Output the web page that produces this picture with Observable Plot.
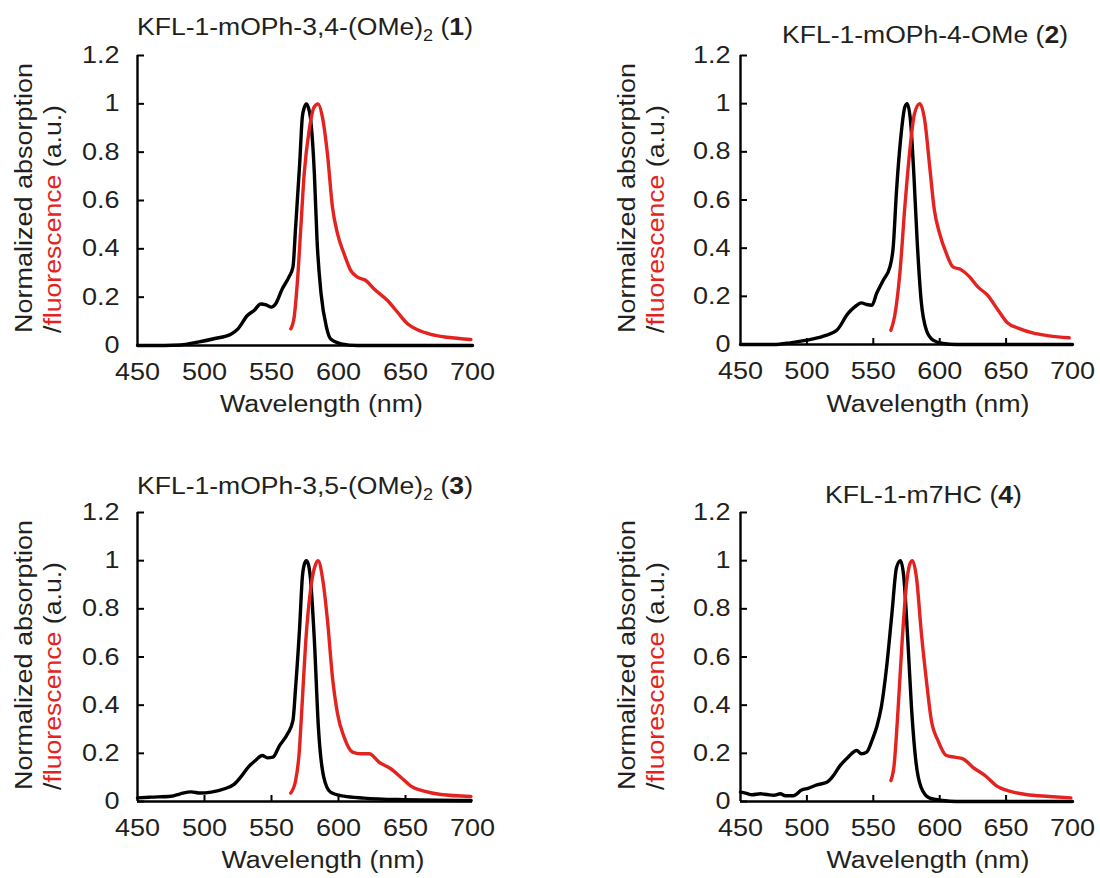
<!DOCTYPE html>
<html><head><meta charset="utf-8">
<script src="https://cdn.jsdelivr.net/npm/d3@7"></script>
<script src="https://cdn.jsdelivr.net/npm/@observablehq/plot@0.6"></script>
<style>
body{margin:0;background:#fff;}
#wrap{position:relative;width:1100px;height:878px;overflow:hidden;background:#fff;}
.panel{position:absolute;width:550px;height:439px;}
</style></head><body><div id="wrap"></div>
<script>
// ---------- data ----------
const wavelengthTicks = [450, 500, 550, 600, 650, 700];
const innerXTicks = [500, 550, 600, 650];
const intensityTicks = [0, 0.2, 0.4, 0.6, 0.8, 1, 1.2];

const titleMain = ["KFL-1-mOPh-3,4-(OMe)", "KFL-1-mOPh-4-OMe", "KFL-1-mOPh-3,5-(OMe)", "KFL-1-m7HC"];
const titleSub = ["2", "", "2", ""];
const titleNum = ["1", "2", "3", "4"];

// [wavelength (nm), normalized intensity]
const abs1 = [[450,0],[470,0],[482,0.002],[495,0.014],[507,0.028],[520,0.048],[525,0.069],[532,0.124],[537,0.145],[542,0.172],[546,0.168],[550,0.159],[553,0.172],[558,0.234],[563,0.283],[566,0.324],[568,0.49],[571,0.75],[573,0.945],[574.5,0.985],[576,1.0],[577.5,0.985],[579,0.945],[582,0.71],[584,0.434],[587,0.214],[591,0.076],[594,0.028],[602,0.007],[614,0],[650,0],[700,0]];
const fl1 = [[564.4,0.069],[566.9,0.117],[569.4,0.269],[571.9,0.49],[574.4,0.71],[578.1,0.89],[581.8,0.986],[584.8,1.0],[588,0.945],[591.8,0.79],[595.5,0.572],[599.3,0.462],[604.2,0.379],[609.2,0.31],[614.2,0.283],[620.4,0.269],[626.6,0.234],[636.6,0.186],[644,0.138],[651.5,0.09],[659,0.065],[668.9,0.046],[681.3,0.034],[698.8,0.025]];

const abs2 = [[450,0],[475,0],[487.5,0.007],[500,0.018],[512.5,0.035],[522.5,0.059],[531,0.129],[536,0.156],[541,0.173],[545,0.166],[549,0.163],[552.5,0.212],[557.5,0.267],[562.5,0.322],[565,0.405],[567.5,0.64],[570.5,0.848],[573.75,0.986],[575.5,1.0],[578,0.93],[580.5,0.71],[583,0.433],[586,0.184],[590,0.059],[595,0.018],[602.5,0.004],[612.5,0],[700,0]];
const fl2 = [[563.25,0.059],[566,0.115],[570,0.295],[573.75,0.571],[577.5,0.806],[581,0.958],[585,1.0],[588.75,0.93],[592.5,0.737],[596,0.557],[600,0.46],[605,0.378],[610,0.322],[616,0.311],[622.5,0.281],[628.75,0.239],[636,0.205],[644,0.142],[651,0.09],[660,0.066],[670,0.048],[682.5,0.036],[697.5,0.028]];

const abs3 = [[450,0.015],[460,0.018],[475,0.022],[482,0.032],[490,0.04],[497,0.035],[505,0.039],[515,0.053],[522,0.071],[527,0.101],[533,0.145],[538,0.17],[543,0.191],[547,0.181],[551,0.184],[556,0.232],[562,0.281],[566,0.336],[568,0.474],[571,0.723],[573,0.93],[574.5,0.985],[576,1.0],[577.5,0.985],[579,0.93],[582,0.668],[585,0.308],[589,0.101],[594,0.039],[604,0.022],[619,0.014],[644,0.008],[699,0.004]];
const fl3 = [[564.4,0.035],[568,0.087],[570.6,0.198],[573,0.419],[575.6,0.668],[579.4,0.89],[583,0.986],[584.8,1.0],[588,0.93],[591.8,0.751],[595.5,0.516],[599.3,0.364],[604.2,0.267],[610.4,0.205],[616.7,0.198],[622.9,0.198],[630.3,0.163],[639,0.136],[646.5,0.101],[654,0.064],[663.9,0.043],[676.4,0.029],[698.8,0.021]];

const abs4 = [[450,0.039],[453.75,0.035],[458.75,0.028],[465,0.032],[470,0.029],[475,0.026],[480,0.032],[483.75,0.024],[490,0.024],[492.5,0.032],[496,0.048],[501,0.055],[507.5,0.069],[515,0.08],[519,0.101],[525,0.149],[531,0.184],[537.5,0.212],[541,0.198],[545,0.205],[549,0.253],[552.5,0.308],[556,0.391],[560,0.557],[564,0.779],[567.5,0.972],[570.5,1.0],[573,0.93],[576,0.668],[578.75,0.391],[582,0.17],[586,0.059],[592.5,0.014],[602.5,0.004],[612.5,0],[700,0]];
const fl4 = [[563.25,0.087],[565.5,0.142],[568.75,0.391],[571.75,0.668],[575,0.903],[577.5,0.986],[579.5,1.0],[582.5,0.93],[586.25,0.696],[590,0.502],[593.75,0.336],[598.75,0.253],[605,0.191],[611.25,0.184],[617.5,0.177],[625,0.142],[635,0.104],[642.5,0.066],[652.5,0.043],[665,0.029],[682.5,0.021],[698.75,0.015]];

const absSeries = [abs1, abs2, abs3, abs4];
const flSeries = [fl1, fl2, fl3, fl4];

// ---------- layout ----------
const FONT = '"Liberation Sans", Arial, Helvetica, sans-serif';
const TXT = "#231f20";
const RED = "#e42320";
const layout = [
  {left:0, top:0, mL:137, mR:78, mT:55, mB:94, xTicks:false, yPad:18, title:{x:137,y:35,len:336}, yl:{x1:32,x2:61,y:333}, xl:{x:321.5,y:412}},
  {left:550, top:0, mL:190, mR:28, mT:55, mB:95, xTicks:true, yPad:10, title:{x:232,y:43,len:286}, yl:{x1:85,x2:114,y:333}, xl:{x:378,y:412}},
  {left:0, top:439, mL:137, mR:78, mT:73, mB:77, xTicks:true, yPad:18, title:{x:137,y:55,len:336}, yl:{x1:32,x2:61,y:351}, xl:{x:323,y:429}},
  {left:550, top:439, mL:190, mR:28, mT:73, mB:77, xTicks:true, yPad:10, title:{x:275,y:64,len:197}, yl:{x1:85,x2:114,y:351}, xl:{x:378,y:429}}
];

const wrap = document.getElementById("wrap");
const fmt = d => String(+d.toFixed(1));

layout.forEach((L, i) => {
  const marks = [
    Plot.ruleX([450], {stroke: "#000", strokeWidth: 2.4}),
    Plot.ruleY([0], {stroke: "#000", strokeWidth: 2.4}),
    Plot.axisY({ticks: intensityTicks, tickSize: 7, dx: 7, fill: "none", stroke: "#000", strokeWidth: 2, label: null}),
    Plot.axisY({ticks: intensityTicks, tickSize: 0, tickPadding: L.yPad, tickFormat: fmt, label: null, fill: TXT}),
    Plot.axisX({ticks: wavelengthTicks, tickSize: 0, tickPadding: 18, tickFormat: d => String(d), label: null, fill: TXT}),
    Plot.line(absSeries[i], {x: d => d[0], y: d => d[1], stroke: "#000", strokeWidth: 3.4, curve: "monotone-x"}),
    Plot.line(flSeries[i], {x: d => d[0], y: d => d[1], stroke: RED, strokeWidth: 3.4, curve: "monotone-x"})
  ];
  if (L.xTicks) marks.splice(2, 0, Plot.axisX({ticks: innerXTicks, tickSize: 6, dy: -6, fill: "none", stroke: "#000", strokeWidth: 2, label: null}));

  const svg = Plot.plot({
    width: 550, height: 439,
    marginLeft: L.mL, marginRight: L.mR, marginTop: L.mT, marginBottom: L.mB,
    style: {fontFamily: FONT, fontSize: "23.5px", color: TXT, background: "transparent", overflow: "visible"},
    x: {domain: [450, 700]},
    y: {domain: [0, 1.2]},
    marks
  });
  const div = document.createElement("div");
  div.className = "panel";
  div.style.left = L.left + "px";
  div.style.top = L.top + "px";
  div.appendChild(svg);
  wrap.appendChild(div);

  const s = d3.select(svg);
  // tick labels: stretch horizontally to match the wide face
  svg.querySelectorAll("text").forEach(t => {
    const len = t.getComputedTextLength();
    if (len > 0) { t.setAttribute("textLength", len * 1.15); t.setAttribute("lengthAdjust", "spacingAndGlyphs"); }
  });

  // title
  const tt = s.append("text").attr("x", L.title.x).attr("y", L.title.y).attr("text-anchor", "start")
    .attr("font-family", FONT).attr("font-size", 23.5).attr("fill", TXT);
  tt.append("tspan").text(titleMain[i]);
  if (titleSub[i]) {
    tt.append("tspan").attr("font-size", 16).attr("dy", 6).text(titleSub[i]);
    tt.append("tspan").attr("dy", -6).text(" (");
  } else {
    tt.append("tspan").text(" (");
  }
  tt.append("tspan").attr("font-weight", "bold").text(titleNum[i]);
  tt.append("tspan").text(")");
  tt.attr("textLength", L.title.len).attr("lengthAdjust", "spacingAndGlyphs");

  // y label (two lines)
  s.append("text").attr("transform", `translate(${L.yl.x1},${L.yl.y}) rotate(-90)`).attr("text-anchor", "start")
    .attr("font-family", FONT).attr("font-size", 23.5).attr("fill", TXT)
    .attr("textLength", 270).attr("lengthAdjust", "spacingAndGlyphs")
    .text("Normalized absorption");
  const y2 = s.append("text").attr("transform", `translate(${L.yl.x2},${L.yl.y}) rotate(-90)`).attr("text-anchor", "start")
    .attr("font-family", FONT).attr("font-size", 23.5).attr("fill", TXT)
    .attr("textLength", 228).attr("lengthAdjust", "spacingAndGlyphs");
  y2.append("tspan").text("/");
  y2.append("tspan").attr("fill", RED).text("fluorescence");
  y2.append("tspan").text(" (a.u.)");

  // x label
  s.append("text").attr("x", L.xl.x).attr("y", L.xl.y).attr("text-anchor", "middle")
    .attr("font-family", FONT).attr("font-size", 23.5).attr("fill", TXT)
    .attr("textLength", 203).attr("lengthAdjust", "spacingAndGlyphs")
    .text("Wavelength (nm)");
});
</script></body></html>
